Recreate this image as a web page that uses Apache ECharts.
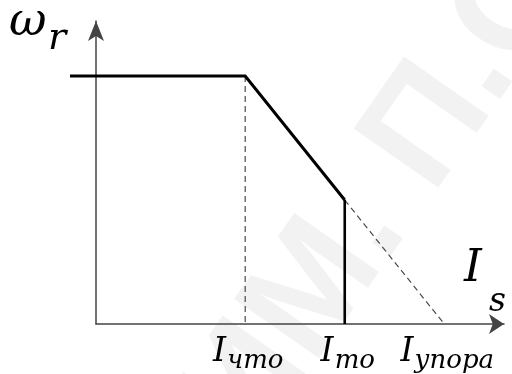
<!DOCTYPE html>
<html>
<head>
<meta charset="utf-8">
<script src="https://cdn.jsdelivr.net/npm/echarts@6/dist/echarts.min.js"></script>
<style>
  html, body { margin: 0; padding: 0; background: #ffffff; }
  #chart { width: 512px; height: 374px; }
</style>
</head>
<body>
<div id="chart"></div>
<script>
// Speed ω_r versus stator current I_s with current cut-off.
const tickValues = [1.5, 2.5, 3.5];             // I_что, I_то, I_упора
const tickSubscripts = ['что', 'то', 'упора'];
const speedCurve = [[-0.26, 2], [1.5, 2], [2.5, 1]];   // flat part, then drooping part
const cutoffDrop = [[2.5, 1], [2.5, 0]];              // sharp cut-off at I_то
const thresholdGuide = [[1.5, 2], [1.5, 0]];          // guide down to I_что
const stallExtension = [[2.5, 1], [3.5, 0]];          // droop continued to I_упора

const SERIF = 'DejaVu Serif';

const chart = echarts.init(document.getElementById('chart'), null, { renderer: 'canvas' });

function solid(data, width) {
  return {
    type: 'line', data: data, symbol: 'none', clip: false, silent: true,
    xAxisIndex: 1, yAxisIndex: 1,
    lineStyle: { color: '#000000', width: width, join: 'miter', cap: 'butt' },
    z: 5
  };
}
function dashed(data) {
  return {
    type: 'line', data: data, symbol: 'none', clip: false, silent: true,
    xAxisIndex: 1, yAxisIndex: 1,
    lineStyle: { color: '#4a4a4a', width: 1.2, type: [6, 4] },
    z: 3
  };
}

const hiddenAxis = {
  show: false, splitLine: { show: false }, axisLine: { show: false },
  axisTick: { show: false }, axisLabel: { show: false }
};

function italic(size, x, y, text) {
  return {
    type: 'text', x: x, y: y, z: 10, silent: true,
    style: {
      text: text, fill: '#000000', fontFamily: SERIF, fontStyle: 'italic',
      fontSize: size, align: 'left', verticalAlign: 'middle'
    }
  };
}

chart.setOption({
  backgroundColor: '#ffffff',
  animation: false,
  grid: [
    // grid 0: visible axes starting at the origin
    { left: 96, right: 8, top: 21, bottom: 50, containLabel: false, outerBoundsMode: 'none' },
    // grid 1: same scale, widened to the left so the flat part starts before the origin
    { left: 70, right: 8, top: 21, bottom: 50, containLabel: false, outerBoundsMode: 'none' }
  ],
  xAxis: [
    {
      gridIndex: 0, type: 'value', min: 0, max: 4.1,
      splitLine: { show: false },
      axisTick: { show: false },
      axisLine: {
        show: true, onZero: true,
        symbol: ['none', 'arrow'], symbolSize: [15, 15],
        lineStyle: { color: '#444444', width: 1.5 }
      },
      axisLabel: {
        show: true,
        customValues: tickValues,
        margin: 12,
        formatter: function (v) {
          const i = tickValues.indexOf(v);
          return '{i|I}{s|' + (i >= 0 ? tickSubscripts[i] : '') + '}';
        },
        rich: {
          i: { fontFamily: SERIF, fontStyle: 'italic', fontSize: 33, color: '#000', lineHeight: 33, verticalAlign: 'top', padding: [0, 0, 0, 6] },
          s: { fontFamily: SERIF, fontStyle: 'italic', fontSize: 26, color: '#000', lineHeight: 26, verticalAlign: 'top', padding: [12, 0, 0, 1] }
        }
      }
    },
    Object.assign({ gridIndex: 1, type: 'value', min: -0.26, max: 4.1 }, hiddenAxis)
  ],
  yAxis: [
    {
      gridIndex: 0, type: 'value', min: 0, max: 2.444,
      splitLine: { show: false },
      axisTick: { show: false },
      axisLabel: { show: false },
      axisLine: {
        show: true, onZero: true,
        symbol: ['none', 'arrow'], symbolSize: [12, 20],
        lineStyle: { color: '#444444', width: 1.5 }
      }
    },
    Object.assign({ gridIndex: 1, type: 'value', min: 0, max: 2.444 }, hiddenAxis)
  ],
  graphic: [
    {
      type: 'text', x: 470, y: 70, rotation: 0.96, z: -10, silent: true,
      style: {
        text: 'ГГТУ ИМ. П.О. СУХОГО', fill: '#f2f2f2',
        fontFamily: 'Liberation Sans', fontWeight: 'bold', fontSize: 150,
        align: 'center', verticalAlign: 'middle'
      }
    },
    italic(46, 9, 23, 'ω'),
    italic(38, 48, 39, 'r'),
    italic(45, 464, 269, 'I'),
    italic(33, 489, 302, 's')
  ],
  series: [
    solid(speedCurve, 3),
    solid(cutoffDrop, 2.6),
    dashed(thresholdGuide),
    dashed(stallExtension)
  ]
});
</script>
</body>
</html>
